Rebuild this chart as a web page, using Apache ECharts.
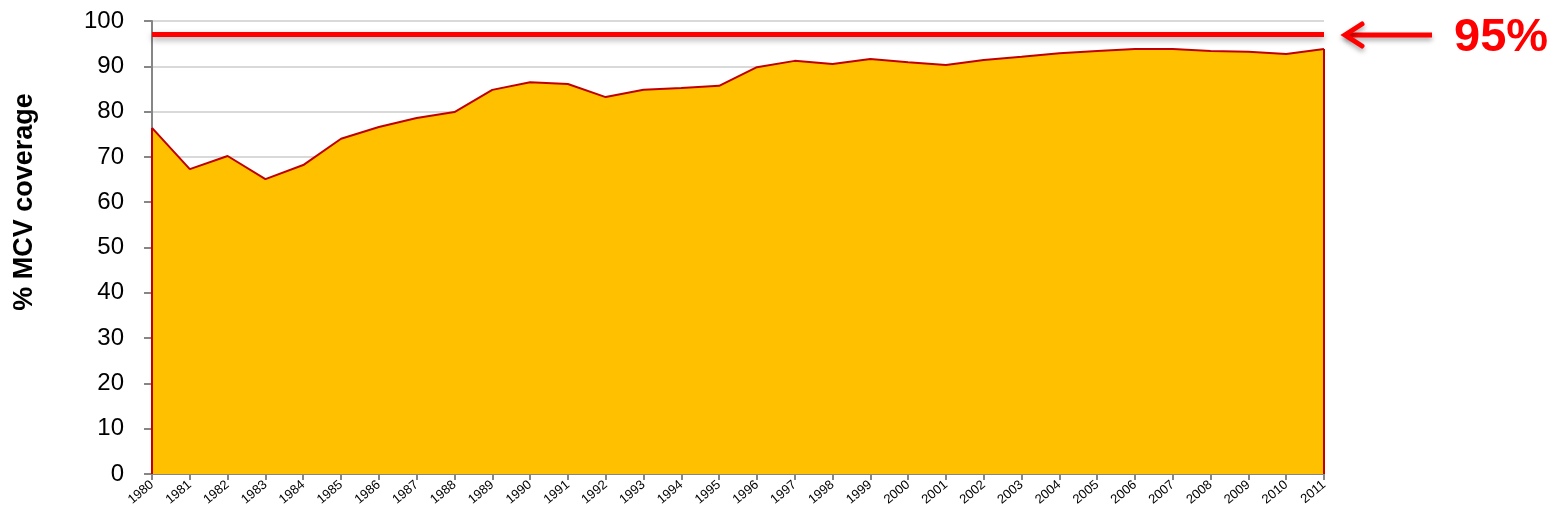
<!DOCTYPE html>
<html>
<head>
<meta charset="utf-8">
<script src="https://cdn.jsdelivr.net/npm/echarts@6/dist/echarts.min.js"></script>
<style>html,body{margin:0;padding:0;background:#fff}#c{width:1556px;height:526px}</style>
</head>
<body>
<div id="c"></div>
<script>
const years = ['1980','1981','1982','1983','1984','1985','1986','1987','1988','1989','1990','1991','1992','1993','1994','1995','1996','1997','1998','1999','2000','2001','2002','2003','2004','2005','2006','2007','2008','2009','2010','2011'];
const coverage = [76.4,67.3,70.2,65.1,68.2,74.0,76.6,78.6,79.9,84.8,86.5,86.1,83.2,84.8,85.2,85.7,89.8,91.2,90.5,91.6,90.9,90.3,91.4,92.1,92.9,93.4,93.8,93.8,93.4,93.2,92.7,93.8];
const targetLine = 97;
const targetLabel = '95%';
const yTicks = {min: 0, max: 100, interval: 10};
const yName = '% MCV coverage';

const chart = echarts.init(document.getElementById('c'));
chart.setOption({
  animation: false,
  grid: {left: 152, right: 232, top: 21, bottom: 52},
  xAxis: {
    type: 'category', data: years, boundaryGap: false,
    axisLine: {lineStyle: {color: '#868686', width: 2}},
    axisTick: {show: true, length: 6, lineStyle: {color: '#868686', width: 2}},
    axisLabel: {rotate: 40, fontSize: 13, color: '#000', fontFamily: 'Liberation Sans', margin: 9, interval: 0}
  },
  yAxis: {
    type: 'value', min: yTicks.min, max: yTicks.max, interval: yTicks.interval,
    axisLine: {show: true, lineStyle: {color: '#868686', width: 2}},
    axisTick: {show: true, length: 8, lineStyle: {color: '#868686', width: 2}},
    splitLine: {lineStyle: {color: '#d9d9d9', width: 2}},
    axisLabel: {fontSize: 24, color: '#000', fontFamily: 'Liberation Sans', margin: 28}
  },
  series: [{
    type: 'line', data: coverage, symbol: 'none',
    lineStyle: {color: '#C00000', width: 2},
    areaStyle: {color: '#FFC000', opacity: 1},
    z: 2,
    markLine: {
      silent: true, symbol: 'none', label: {show: false},
      data: [
        [{coord: [years[0], 0]}, {coord: [years[0], coverage[0]]}],
        [{coord: [years[years.length-1], 0]}, {coord: [years[years.length-1], coverage[coverage.length-1]]}]
      ],
      lineStyle: {color: '#C00000', width: 2, type: 'solid'}
    }
  }, {
    type: 'line', data: [], z: 5,
    markLine: {
      silent: true, symbol: 'none', label: {show: false},
      data: [{yAxis: targetLine}],
      lineStyle: {color: '#FF0000', width: 5, type: 'solid', shadowBlur: 6, shadowColor: 'rgba(0,0,0,0.35)', shadowOffsetY: 3}
    }
  }],
  graphic: [
    {type: 'text', x: 25, y: 202, rotation: Math.PI/2,
     style: {text: yName, font: 'bold 27px "Liberation Sans"', fill: '#000', align: 'center', verticalAlign: 'middle'}},
    {type: 'line', shape: {x1: 1346, y1: 35, x2: 1432, y2: 35},
     style: {stroke: '#FF0000', lineWidth: 5, shadowBlur: 5, shadowColor: 'rgba(0,0,0,0.35)', shadowOffsetY: 3}},
    {type: 'polyline', shape: {points: [[1362, 24], [1345, 35], [1362, 46]]},
     style: {stroke: '#FF0000', lineWidth: 5, fill: 'none', lineCap: 'round', lineJoin: 'miter', shadowBlur: 5, shadowColor: 'rgba(0,0,0,0.35)', shadowOffsetY: 3}},
    {type: 'text', x: 1454, y: 38,
     style: {text: targetLabel, font: 'bold 47px "Liberation Sans"', fill: '#FF0000', align: 'left', verticalAlign: 'middle'}}
  ]
});
</script>
</body>
</html>
